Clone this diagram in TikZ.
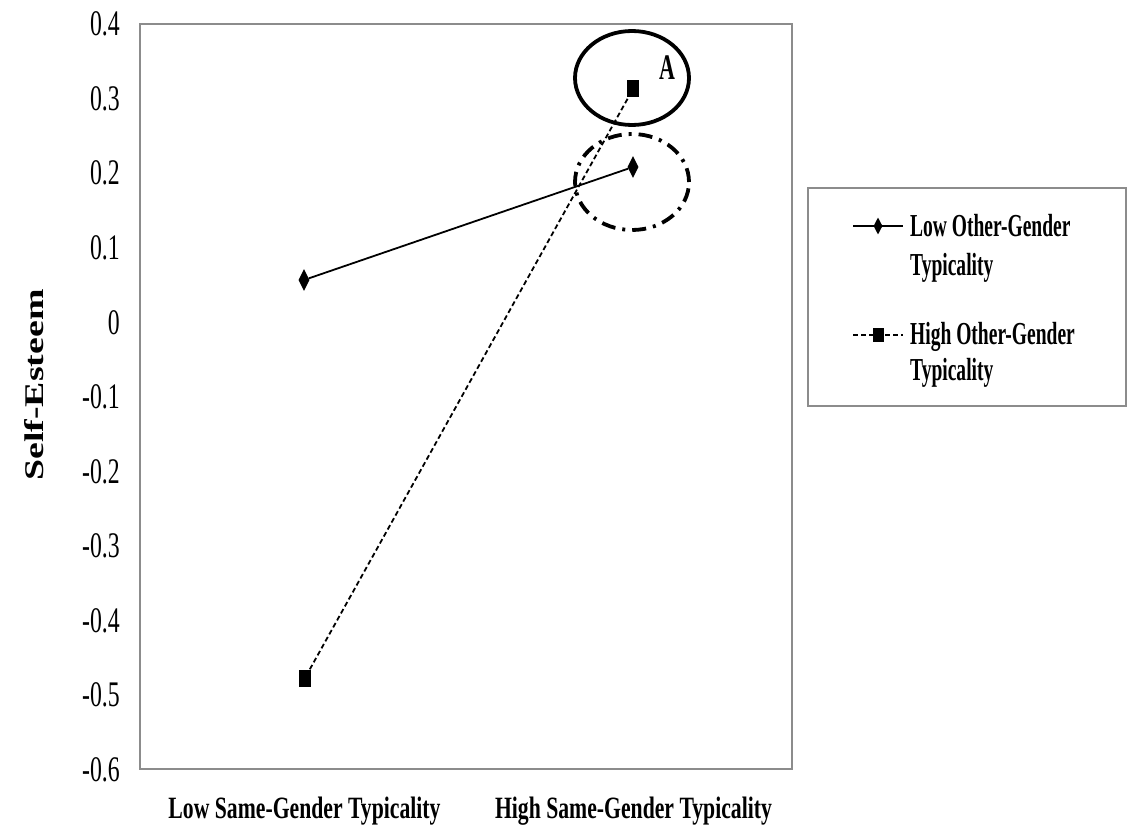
\documentclass[tikz,border=0pt]{standalone}
\usepackage{fontspec}
\setmainfont{Liberation Serif}
\newfontfamily\tickfont[FakeStretch=0.66]{Liberation Serif}
\newfontfamily\labfont[FakeStretch=0.70]{Liberation Serif Bold}
\newfontfamily\legfont[FakeStretch=0.61]{Liberation Serif Bold}
\newfontfamily\yfont[FakeStretch=1.40]{Liberation Serif Bold}
\usetikzlibrary{shapes.geometric}
\definecolor{framegray}{gray}{0.55}
\tikzset{
  tick/.style={anchor=base east, inner sep=0pt, font=\tickfont\fontsize{36}{36}\selectfont},
  axlab/.style={anchor=base, inner sep=0pt, font=\labfont\fontsize{31}{31}\selectfont},
  legtext/.style={anchor=base west, inner sep=0pt, font=\legfont\fontsize{32}{32}\selectfont},
  dmark/.style={diamond, fill=black, inner sep=0pt, aspect=0.5, minimum width=11pt, minimum height=22pt},
  smark/.style={rectangle, fill=black, inner sep=0pt, minimum width=12pt, minimum height=17pt},
  solidser/.style={line width=1.8pt, black},
  dashser/.style={line width=1.8pt, black, dash pattern=on 5pt off 3pt},
}
\begin{document}
\begin{tikzpicture}[x=1pt, y=-1pt]
\useasboundingbox[fill=white] (0,0) rectangle (1137,837);
% plot frame
\draw[framegray, line width=2pt] (140,24) rectangle (792,769);
% tick labels
\foreach \t [count=\i from 0] in {0.4,0.3,0.2,0.1,0,-0.1,-0.2,-0.3,-0.4,-0.5,-0.6}
  \node[tick] (tk\i) at (120, 24+74.5*\i+12) {\t};
% axis labels
\node[axlab] (xlow) at (304.5,818) {Low Same-Gender Typicality};
\node[axlab] (xhigh) at (633.5,818) {High Same-Gender Typicality};
\node[inner sep=0pt, rotate=90, font=\yfont\fontsize{27}{27}\selectfont] (ylab) at (34,385) {Self-Esteem};
% data
\node[dmark] (lo1) at (304,280) {};
\node[dmark] (lo2) at (633,167) {};
\node[smark] (hi1) at (305,678) {};
\node[smark] (hi2) at (633,89) {};
\draw[solidser] (lo1) -- (lo2);
\draw[dashser] (hi1) -- (hi2);
% annotations
\draw[line width=3.8pt] (632,78) ellipse [x radius=57pt, y radius=47pt];
\draw[line width=3.8pt, dash pattern=on 14pt off 7pt on 3pt off 7pt] (632,182) ellipse [x radius=57pt, y radius=48pt];
\node[anchor=base, inner sep=0pt, font=\legfont\fontsize{36}{36}\selectfont] (lblA) at (667,80) {A};
% legend
\draw[framegray, line width=1.5pt] (808,188) rectangle (1126,406);
\coordinate (la1) at (853,226);
\coordinate (la2) at (903,226);
\coordinate (lb1) at (853,335);
\coordinate (lb2) at (903,335);
\draw[solidser] (la1) -- (la2);
\draw[dashser] (lb1) -- (lb2);
\node[dmark, minimum width=9pt, minimum height=17pt] (lgd) at (878,226) {};
\node[smark, minimum width=11pt, minimum height=14pt] (lgs) at (878,335) {};
\node[legtext] (lt1a) at (910,236) {Low Other-Gender};
\node[legtext] (lt1b) at (910,275) {Typicality};
\node[legtext] (lt2a) at (910,344) {High Other-Gender};
\node[legtext] (lt2b) at (910,380) {Typicality};
\end{tikzpicture}
\end{document}
